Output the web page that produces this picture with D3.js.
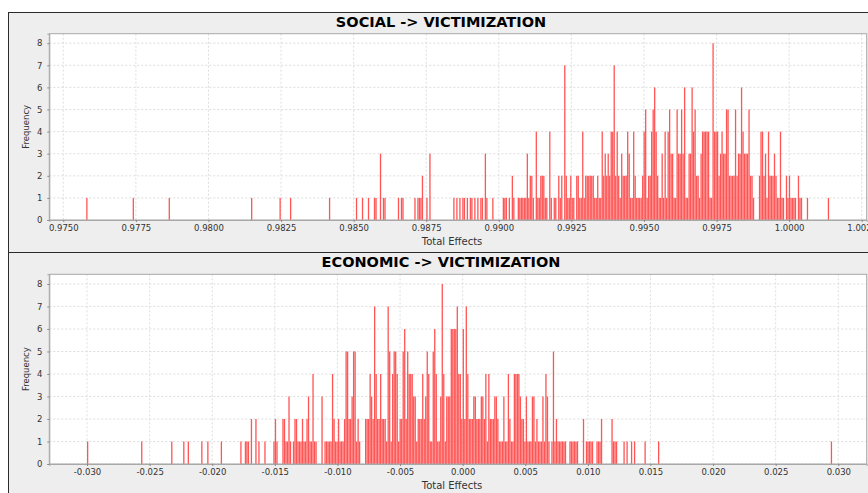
<!DOCTYPE html>
<html>
<head>
<meta charset="utf-8">
<script src="https://d3js.org/d3.v7.min.js"></script>
<style>
body { margin: 0; background: #fff; }
text { font-family: "DejaVu Sans", Verdana, sans-serif; }
</style>
</head>
<body>
<script>
// dimensions
var width = 868;
var height = 493;

// SOCIAL -> VICTIMIZATION histogram
var socialStart = 0.97579;
var socialBinWidth = 0.0000516;
// isolated bins: [bin index, frequency]
var socialSparse = [
    [0,1],[31,1],[55,1],[110,1],[129,1],[136,1],[162,1],[180,1],[184,1],[188,1],
    [192,1],[193,1],[196,3],[198,1],[199,1],[208,1],[210,1],[211,1],[219,1],[221,1],
    [222,1],[223,1],[224,2],[227,1],[229,3],[245,1],[247,1],[249,1],[251,1],[252,1],
    [254,1],[256,1],[257,1],[259,1],[261,1],[263,1],[264,1],[266,3],[267,1],[271,1],
    [495,1]
];
// contiguous bins from index 272
var socialDenseFrom = 272;
var socialDense = [
    0,0,0,0,0,0,1,1,1,0, 1,0,2,1,0,0,1,1,1,1,
    1,1,3,1,2,2,1,0,4,1, 1,2,2,2,1,1,0,4,1,0,
    1,1,0,2,1,2,0,7,2,1, 1,2,1,1,0,2,2,1,1,4,
    1,2,2,2,2,2,2,1,1,2, 1,1,4,2,3,2,3,2,4,4,
    7,2,4,2,1,3,2,2,2,4, 3,1,1,4,2,1,1,1,1,2,
    4,5,1,2,2,4,5,6,4,2, 1,1,3,1,4,1,4,5,3,3,
    1,1,5,3,3,5,3,6,1,1, 3,3,6,4,5,2,2,1,3,4,
    4,4,4,4,1,1,8,4,4,4, 2,3,4,3,3,5,5,2,2,2,
    2,5,2,3,3,6,4,3,3,3, 5,2,2,1,0,0,0,2,4,4,
    2,3,1,4,2,2,2,3,2,1, 1,4,1,1,0,2,1,2,1,1,
    1,1,0,2,1,1,0,0,0,1, 0
];
var socialTicks = [0.9750, 0.9775, 0.9800, 0.9825, 0.9850, 0.9875, 0.9900, 0.9925, 0.9950, 0.9975, 1.0000, 1.0025];

// ECONOMIC -> VICTIMIZATION histogram
var econStart = -0.0300;
var econBinWidth = 0.00012;
var econSparse = [
    [0,1],[36,1],[56,1],[64,1],[67,1],[76,1],[80,1],[89,1],
    [349,2],[350,1],[351,1],[352,1],[357,1],[359,1],[362,1],[364,1],[371,1],[380,1],
    [495,1]
];
// contiguous bins from index 100
var econDenseFrom = 100;
var econDense = [
    0,0,1,0,0,1,1,1,0,2, 0,0,2,0,1,0,0,0,1,0,
    0,0,0,0,1,2,1,0,0,0, 2,2,1,1,3,1,0,1,2,2,
    1,1,1,2,1,1,2,3,1,1, 4,1,1,0,0,0,3,0,1,1,
    1,1,1,4,2,1,1,2,1,1, 1,2,5,5,2,2,3,5,5,1,
    2,1,0,0,0,2,2,2,4,3, 2,7,4,2,2,4,2,2,2,1,
    7,5,1,4,5,5,4,1,2,2, 5,6,2,5,4,4,4,3,3,1,
    2,2,2,4,2,3,5,4,1,1, 5,6,4,1,1,3,8,4,1,3,
    3,3,6,6,6,6,7,4,4,2, 6,2,7,4,2,2,2,3,3,2,
    2,2,3,3,2,4,1,4,2,2, 2,3,3,2,1,1,1,3,1,1,
    4,2,1,1,4,4,4,4,3,2, 2,1,3,1,1,1,3,3,1,2,
    1,1,1,3,1,4,3,1,0,1, 5,1,2,1,1,1,1,1,1,0,
    0,1,1,1,1,1,1,0,0,0, 2,0,1,1,1,1,1,0,0,1,
    1,1,2,0,0,0
];
var econTicks = [-0.030, -0.025, -0.020, -0.015, -0.010, -0.005, 0.000, 0.005, 0.010, 0.015, 0.020, 0.025, 0.030];

var freqTicks = [0, 1, 2, 3, 4, 5, 6, 7, 8];

// turn sparse + dense lists into one list of bins
function buildBins(start, binWidth, sparse, denseFrom, dense) {
    var bins = [];
    sparse.forEach(function(d) {
        bins.push({x0: start + d[0] * binWidth, x1: start + (d[0] + 1) * binWidth, n: d[1]});
    });
    dense.forEach(function(n, i) {
        if (n > 0) {
            var k = denseFrom + i;
            bins.push({x0: start + k * binWidth, x1: start + (k + 1) * binWidth, n: n});
        }
    });
    return bins;
}

// plain hyphen for negatives, like the original
var hyphenLocale = d3.formatLocale({decimal: ".", thousands: ",", grouping: [3], currency: ["", ""], minus: "-"});

var svg = d3.select("body")
    .append("svg")
    .attr("width", width)
    .attr("height", height);

var panels = [
    {
        title: "SOCIAL -> VICTIMIZATION",
        top: 12, bottom: 252,
        plot: {left: 49.3, right: 866.7, top: 33.7, bottom: 220},
        domain: [0.974518, 1.002672],
        ticks: socialTicks,
        format: hyphenLocale.format(".4f"),
        bins: buildBins(socialStart, socialBinWidth, socialSparse, socialDenseFrom, socialDense)
    },
    {
        title: "ECONOMIC -> VICTIMIZATION",
        top: 252, bottom: 500,
        plot: {left: 49.3, right: 866.7, top: 274.3, bottom: 464},
        domain: [-0.033011, 0.032268],
        ticks: econTicks,
        format: hyphenLocale.format(".3f"),
        bins: buildBins(econStart, econBinWidth, econSparse, econDenseFrom, econDense)
    }
];

panels.forEach(function(p) {
    var g = svg.append("g");

    // chart background with a dark frame
    g.append("rect")
        .attr("x", 8.5)
        .attr("y", p.top + 0.5)
        .attr("width", 880)
        .attr("height", p.bottom - p.top)
        .attr("fill", "#eeeeee")
        .attr("stroke", "#2b2b2b")
        .attr("stroke-width", 1);

    var x = d3.scaleLinear().domain(p.domain).range([p.plot.left, p.plot.right]);
    var y = d3.scaleLinear().domain([0, 8.43]).range([p.plot.bottom, p.plot.top]);

    // white plot area
    g.append("rect")
        .attr("x", p.plot.left)
        .attr("y", p.plot.top)
        .attr("width", p.plot.right - p.plot.left)
        .attr("height", p.plot.bottom - p.plot.top)
        .attr("fill", "#ffffff");

    // dashed grid
    g.selectAll(".vgrid")
        .data(p.ticks)
        .enter().append("line")
        .attr("x1", function(d) { return x(d); })
        .attr("x2", function(d) { return x(d); })
        .attr("y1", p.plot.top)
        .attr("y2", p.plot.bottom)
        .attr("stroke", "#d4d4d4")
        .attr("stroke-width", 0.8)
        .attr("stroke-dasharray", "2,2");

    g.selectAll(".hgrid")
        .data(freqTicks)
        .enter().append("line")
        .attr("x1", p.plot.left)
        .attr("x2", p.plot.right)
        .attr("y1", function(d) { return y(d); })
        .attr("y2", function(d) { return y(d); })
        .attr("stroke", "#d4d4d4")
        .attr("stroke-width", 0.8)
        .attr("stroke-dasharray", "2,2");

    // the bars
    g.selectAll(".bar")
        .data(p.bins)
        .enter().append("rect")
        .attr("x", function(d) { return x(d.x0); })
        .attr("width", function(d) { return Math.max(0.6, x(d.x1) - x(d.x0) - 0.2); })
        .attr("y", function(d) { return y(d.n); })
        .attr("height", function(d) { return y(0) - y(d.n); })
        .attr("fill", "#ff5555");

    // plot outline
    g.append("rect")
        .attr("x", p.plot.left)
        .attr("y", p.plot.top)
        .attr("width", p.plot.right - p.plot.left)
        .attr("height", p.plot.bottom - p.plot.top)
        .attr("fill", "none")
        .attr("stroke", "#a8a8a8")
        .attr("stroke-width", 1);

    // axes
    var xAxis = d3.axisBottom(x)
        .tickValues(p.ticks)
        .tickFormat(p.format)
        .tickSize(2)
        .tickPadding(3);
    var gx = g.append("g")
        .attr("transform", "translate(0," + p.plot.bottom + ")")
        .call(xAxis);

    var yAxis = d3.axisLeft(y)
        .tickValues(freqTicks)
        .tickFormat(d3.format("d"))
        .tickSize(2)
        .tickPadding(5);
    var gy = g.append("g")
        .attr("transform", "translate(" + p.plot.left + ",0)")
        .call(yAxis);

    [gx, gy].forEach(function(a) {
        a.select(".domain").attr("stroke", "#a8a8a8");
        a.selectAll(".tick line").attr("stroke", "#888");
        a.selectAll(".tick text")
            .attr("fill", "#333")
            .style("font-size", "8.5px")
            .style("font-family", "'DejaVu Sans', Verdana, sans-serif");
    });

    // title
    g.append("text")
        .attr("x", 441)
        .attr("y", p.top + 15)
        .attr("text-anchor", "middle")
        .style("font-size", "14.5px")
        .style("font-weight", "bold")
        .attr("fill", "#000")
        .text(p.title);

    // axis titles
    g.append("text")
        .attr("x", (p.plot.left + p.plot.right) / 2 - 6)
        .attr("y", p.plot.bottom + 25)
        .attr("text-anchor", "middle")
        .style("font-size", "10px")
        .attr("fill", "#333")
        .text("Total Effects");

    g.append("text")
        .attr("transform", "translate(29," + ((p.plot.top + p.plot.bottom) / 2) + ") rotate(-90)")
        .attr("text-anchor", "middle")
        .style("font-size", "8.5px")
        .attr("fill", "#333")
        .text("Frequency");
});
</script>
</body>
</html>
